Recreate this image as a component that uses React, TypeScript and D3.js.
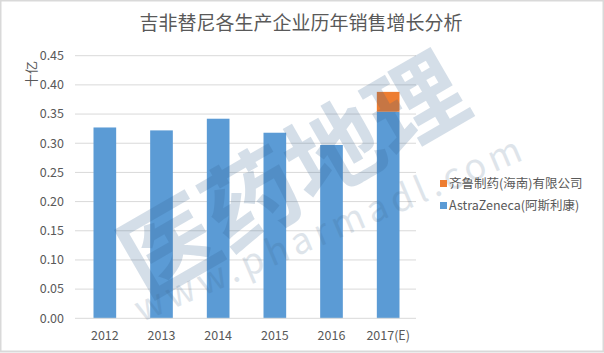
import React from "react";
import * as d3 from "d3";

const categories = ["2012", "2013", "2014", "2015", "2016", "2017(E)"];
const astraZeneca = [0.327, 0.322, 0.342, 0.318, 0.297, 0.354];
const qilu = [0, 0, 0, 0, 0, 0.034];
const yTicks = [0, 0.05, 0.1, 0.15, 0.2, 0.25, 0.3, 0.35, 0.4, 0.45];
const seriesNames = ["齐鲁制药(海南)有限公司", "AstraZeneca(阿斯利康)"];
const title = "吉非替尼各生产企业历年销售增长分析";
const yLabel = "十亿";

const W = 604;
const H = 353;
const FONT = "'Noto Sans CJK SC', 'Noto Sans', sans-serif";

export default function App() {
  const x = d3.scaleBand().domain(categories).range([76.5, 416.5]).paddingInner(0.6).paddingOuter(0.3);
  const y = d3.scaleLinear().domain([0, 0.45]).range([318.3, 55.7]);

  const rows = categories.map((c, i) => ({ c, az: astraZeneca[i], ql: qilu[i] }));
  const stack = d3.stack<any>().keys(["az", "ql"])(rows as any);
  const colors: Record<string, string> = { az: "#5B9BD5", ql: "#ED7D31" };

  return (
    <div style={{ position: "fixed", left: 0, top: 0, width: W, height: H, background: "#fff" }}>
      <svg width={W} height={H} style={{ display: "block" }} fontFamily={FONT}>
        <rect x={0.5} y={0.5} width={W - 1} height={H - 2} fill="#fff" stroke="#d9d9d9" strokeWidth={2} />
        <text x={301} y={30} textAnchor="middle" fontSize={19} fill="#595959">{title}</text>

        {yTicks.map((t) => (
          <g key={t}>
            {t > 0 && (
              <line x1={75} x2={416} y1={y(t)} y2={y(t)} stroke="#d9d9d9" strokeWidth={1} />
            )}
            <text x={64} y={y(t)} dy="0.35em" textAnchor="end" fontSize={12.5} fill="#595959">
              {d3.format(".2f")(t)}
            </text>
          </g>
        ))}

        <text
          transform={`translate(31, 74) rotate(-90)`}
          textAnchor="middle"
          dy="0.35em"
          fontSize={13}
          fill="#595959"
        >
          {yLabel}
        </text>

        {stack.map((s) => (
          <g key={s.key} fill={colors[s.key]}>
            {s.map((d: any, i: number) =>
              d[1] - d[0] > 0 ? (
                <rect
                  key={i}
                  x={x(categories[i])!}
                  width={x.bandwidth()}
                  y={y(d[1])}
                  height={y(d[0]) - y(d[1])}
                />
              ) : null
            )}
          </g>
        ))}

        <line x1={75} x2={416} y1={y(0)} y2={y(0)} stroke="#d9d9d9" strokeWidth={1} />

        {categories.map((c) => (
          <text key={c} x={x(c)! + x.bandwidth() / 2} y={340} textAnchor="middle" fontSize={12.5} fill="#595959">
            {c}
          </text>
        ))}

        {/* watermark */}
        <g opacity={0.2} fill="#2f5f8f" fontWeight="bold" pointerEvents="none">
          <text transform="translate(310,205) rotate(-30)" textAnchor="middle" fontSize={95}>
            医药地理
          </text>
        </g>
        <g opacity={0.16} fill="#3a5f85" pointerEvents="none">
          <text transform="translate(335,240) rotate(-23)" textAnchor="middle" fontSize={36} letterSpacing={5}>
            www.pharmadl.com
          </text>
        </g>

        {/* legend */}
        {seriesNames.map((n, i) => (
          <g key={n} transform={`translate(440, ${184 + i * 22})`}>
            <rect x={0} y={-4} width={7} height={7} fill={i === 0 ? colors.ql : colors.az} />
            <text x={9} y={0} dy="0.35em" fontSize={12.5} fill="#595959">{n}</text>
          </g>
        ))}
      </svg>
    </div>
  );
}
